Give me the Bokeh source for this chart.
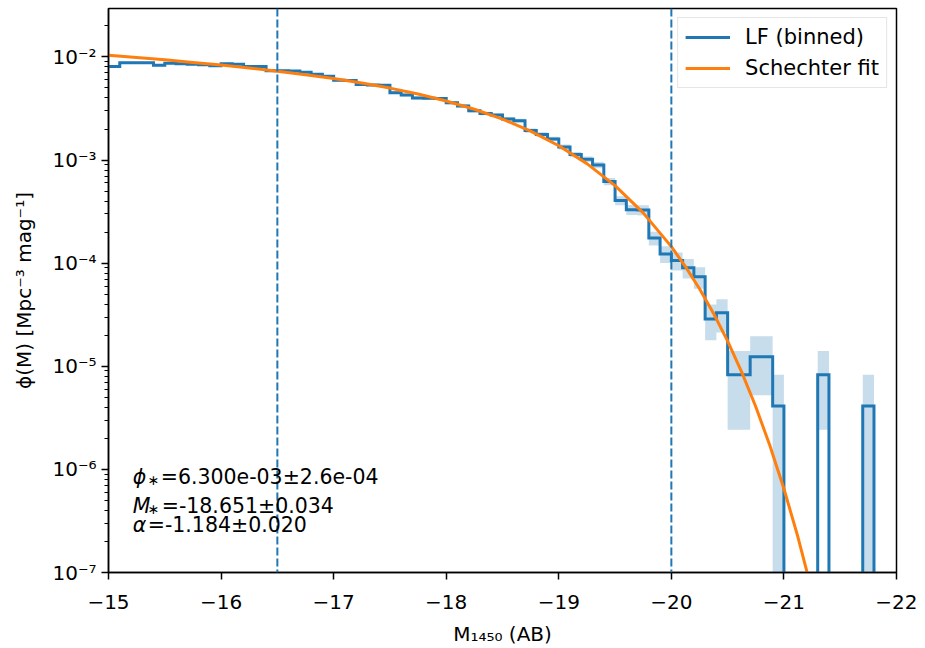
import numpy as np
from bokeh.plotting import figure
from bokeh.models import (Range1d, FixedTicker, CustomJSTickFormatter, Span, Label,
                          Legend, LegendItem)
from bokeh.embed import file_html
from bokeh.resources import INLINE

# ---------------- data ----------------
bin_edges = [-15.0, -15.1, -15.2, -15.3, -15.4, -15.5, -15.6, -15.7, -15.8, -15.9,
             -16.0, -16.1, -16.2, -16.3, -16.4, -16.5, -16.6, -16.7, -16.8, -16.9,
             -17.0, -17.1, -17.2, -17.3, -17.4, -17.5, -17.6, -17.7, -17.8, -17.9,
             -18.0, -18.1, -18.2, -18.3, -18.4, -18.5, -18.6, -18.7, -18.8, -18.9,
             -19.0, -19.1, -19.2, -19.3, -19.4, -19.5, -19.6, -19.7, -19.8, -19.9,
             -20.0, -20.1, -20.2, -20.3, -20.4, -20.5, -20.6, -20.7, -20.8, -20.9,
             -21.0, -21.1, -21.2, -21.3, -21.4, -21.5, -21.6, -21.7, -21.8]

lf_phi = [8.1e-3, 8.8e-3, 8.8e-3, 8.8e-3, 8.3e-3, 8.7e-3, 8.6e-3, 8.5e-3, 8.4e-3, 8.2e-3,
          8.6e-3, 8.5e-3, 8.1e-3, 8.1e-3, 7.35e-3, 7.35e-3, 7.3e-3, 7.1e-3, 6.8e-3, 6.5e-3,
          5.95e-3, 5.9e-3, 5.4e-3, 5.35e-3, 5.3e-3, 4.5e-3, 4.27e-3, 4.0e-3, 3.97e-3, 3.95e-3,
          3.6e-3, 3.35e-3, 3.0e-3, 2.83e-3, 2.73e-3, 2.5e-3, 2.41e-3, 1.93e-3, 1.77e-3, 1.6e-3,
          1.34e-3, 1.13e-3, 1.02e-3, 8.95e-4, 6.2e-4, 4.05e-4, 3.3e-4, 3.27e-4, 1.75e-4, 1.23e-4,
          1.06e-4, 9.05e-5, 7.4e-5, 2.88e-5, 3.3e-5, 8.26e-6, 8.26e-6, 1.24e-5, 1.24e-5, 4.13e-6,
          0.0, 0.0, 0.0, 8.26e-6, 0.0, 0.0, 0.0, 4.13e-6]

lf_err = [1.83e-4, 1.91e-4, 1.91e-4, 1.91e-4, 1.85e-4, 1.90e-4, 1.88e-4, 1.87e-4, 1.86e-4, 1.84e-4,
          1.88e-4, 1.87e-4, 1.83e-4, 1.83e-4, 1.74e-4, 1.74e-4, 1.74e-4, 1.71e-4, 1.68e-4, 1.64e-4,
          1.57e-4, 1.56e-4, 1.49e-4, 1.49e-4, 1.48e-4, 1.36e-4, 1.33e-4, 1.29e-4, 1.28e-4, 1.28e-4,
          1.22e-4, 1.18e-4, 1.11e-4, 1.08e-4, 1.06e-4, 1.02e-4, 9.98e-5, 8.93e-5, 8.55e-5, 8.13e-5,
          7.44e-5, 6.83e-5, 6.49e-5, 6.08e-5, 5.06e-5, 4.09e-5, 3.69e-5, 3.67e-5, 2.69e-5, 2.25e-5,
          2.09e-5, 1.93e-5, 1.75e-5, 1.09e-5, 1.17e-5, 5.84e-6, 5.84e-6, 7.16e-6, 7.16e-6, 4.13e-6,
          0.0, 0.0, 0.0, 5.84e-6, 0.0, 0.0, 0.0, 4.13e-6]

fit_mag = [-15.0, -15.25, -15.5, -15.75, -16.0, -16.25, -16.5, -16.75, -17.0, -17.25,
           -17.5, -17.75, -18.0, -18.25, -18.5, -18.75, -19.0, -19.25, -19.5, -19.75,
           -20.0, -20.125, -20.25, -20.375, -20.5, -20.625, -20.75, -20.875, -21.0, -21.125, -21.25]
fit_phi = [1.041e-2, 9.886e-3, 9.369e-3, 8.853e-3, 8.335e-3, 7.811e-3, 7.277e-3, 6.732e-3, 6.167e-3, 5.586e-3,
           4.987e-3, 4.370e-3, 3.742e-3, 3.112e-3, 2.494e-3, 1.908e-3, 1.377e-3, 9.237e-4, 5.648e-4, 3.074e-4,
           1.446e-4, 9.266e-5, 5.649e-5, 3.248e-5, 1.751e-5, 8.774e-6, 4.05e-6, 1.706e-6, 6.486e-7, 2.196e-7, 6.54e-8]

cut_mags = [-16.5, -20.0]
x_ticks = [-15, -16, -17, -18, -19, -20, -21, -22]
y_ticks = [1e-7, 1e-6, 1e-5, 1e-4, 1e-3, 1e-2]
# fit results: (symbol, "*" subscript, value text)
fit_symbols = ["ϕ", "M", "α"]
fit_subs = ["∗", "∗", ""]
fit_values = ["=6.300e-03±2.6e-04", "=-18.651±0.034", "=-1.184±0.020"]

C0 = "#1f77b4"
C1 = "#ff7f0e"
FONT = "DejaVu Sans"
FLOOR = 1e-10

# ---------------- figure ----------------
p = figure(width=917, height=648, output_backend="svg", toolbar_location=None,
           y_axis_type="log",
           x_range=Range1d(-15, -22), y_range=Range1d(1e-7, 2.95e-2),
           min_border_left=108, min_border_right=21, min_border_top=8, min_border_bottom=68)
p.xgrid.visible = False
p.ygrid.visible = False
p.outline_line_color = "black"
p.outline_line_width = 1.5
p.outline_line_alpha = 1.0
p.background_fill_color = "white"
p.border_fill_color = "white"

# error band (stepped polygon)
ux, uy, lx, ly = [], [], [], []
for i, (v, e) in enumerate(zip(lf_phi, lf_err)):
    a, b = bin_edges[i], bin_edges[i + 1]
    hi = v + e if v + e > 0 else FLOOR
    lo = v - e if v - e > 0 else FLOOR
    ux += [a, b]
    uy += [hi, hi]
    lx += [a, b]
    ly += [lo, lo]
p.patch(ux + lx[::-1], uy + ly[::-1], fill_color=C0, fill_alpha=0.25, line_alpha=0)

# step line
sx, sy = [], []
for i, v in enumerate(lf_phi):
    a, b = bin_edges[i], bin_edges[i + 1]
    vv = v if v > 0 else FLOOR
    sx += [a, b]
    sy += [vv, vv]
sx.append(bin_edges[-1])
sy.append(FLOOR)
r_lf = p.line(sx, sy, line_color=C0, line_width=3, line_join="miter")

# cut lines
for m in cut_mags:
    p.add_layout(Span(location=m, dimension="height", line_color=C0,
                      line_dash="8 3", line_width=2))

# schechter fit
r_fit = p.line(fit_mag, fit_phi, line_color=C1, line_width=3)

# fit text (pieces: italic symbol, small subscript star, value)
line_y = [9.4e-7, 4.99e-7, 3.21e-7]
val_off = [28, 29, 15]
for sym, sub, val, yv, off in zip(fit_symbols, fit_subs, fit_values, line_y, val_off):
    p.add_layout(Label(x=-15.215, y=yv, y_offset=-5, text=sym, text_font=FONT,
                       text_font_size="20.5px", text_font_style="italic",
                       text_baseline="middle", text_color="black"))
    if sub:
        p.add_layout(Label(x=-15.215, y=yv, x_offset=15, y_offset=-8, text=sub,
                           text_font=FONT, text_font_size="14px",
                           text_baseline="middle", text_color="black"))
    p.add_layout(Label(x=-15.215, y=yv, x_offset=off, y_offset=-5, text=val, text_font=FONT,
                       text_font_size="20.5px", text_baseline="middle", text_color="black"))

# legend
leg = Legend(items=[LegendItem(label="LF (binned)", renderers=[r_lf]),
                    LegendItem(label="Schechter fit", renderers=[r_fit])],
             location="top_right", margin=9, padding=7, spacing=7,
             label_height=24, glyph_height=24, glyph_width=45, label_standoff=15,
             label_text_font=FONT, label_text_font_size="21px", label_text_color="black",
             border_line_color="#cccccc", border_line_width=1.2,
             background_fill_color="white", background_fill_alpha=0.8)
p.add_layout(leg)

# axes
xa = p.xaxis[0]
xa.ticker = FixedTicker(ticks=x_ticks)
xa.formatter = CustomJSTickFormatter(code="""
    return (tick < 0 ? "\\u2212" : "") + Math.abs(tick).toFixed(0);
""")
xa.axis_label = "M₁₄₅₀ (AB)"

ya = p.yaxis[0]
minor = []
for d in range(-8, -1):
    for k in range(2, 10):
        minor.append(k * 10.0 ** d)
ya.ticker = FixedTicker(ticks=y_ticks, minor_ticks=minor)
ya.formatter = CustomJSTickFormatter(code="""
    const sup = {"-":"\\u207B","0":"\\u2070","1":"\\u00B9","2":"\\u00B2","3":"\\u00B3",
                 "4":"\\u2074","5":"\\u2075","6":"\\u2076","7":"\\u2077","8":"\\u2078","9":"\\u2079"};
    const e = Math.round(Math.log10(tick));
    return "10" + String(e).split("").map(c => sup[c]).join("");
""")
ya.axis_label = "ϕ(M) [Mpc⁻³ mag⁻¹]"

for ax in (xa, ya):
    ax.axis_line_color = "black"
    ax.axis_line_width = 1.5
    ax.major_tick_line_color = "black"
    ax.major_tick_line_width = 1.5
    ax.minor_tick_line_color = "black"
    ax.minor_tick_line_width = 1.1
    ax.major_tick_out = 7
    ax.major_tick_in = 0
    ax.minor_tick_out = 4
    ax.minor_tick_in = 0
    ax.major_label_text_font = FONT
    ax.major_label_text_font_size = "20px"
    ax.major_label_text_color = "black"
    ax.major_label_standoff = 5
    ax.axis_label_text_font = FONT
    ax.axis_label_text_font_size = "20px"
    ax.axis_label_text_font_style = "normal"
    ax.axis_label_text_color = "black"
xa.major_label_standoff = 15
xa.axis_label_standoff = 10
ya.axis_label_standoff = 13

open("out.html", "w").write(file_html(p, INLINE))
